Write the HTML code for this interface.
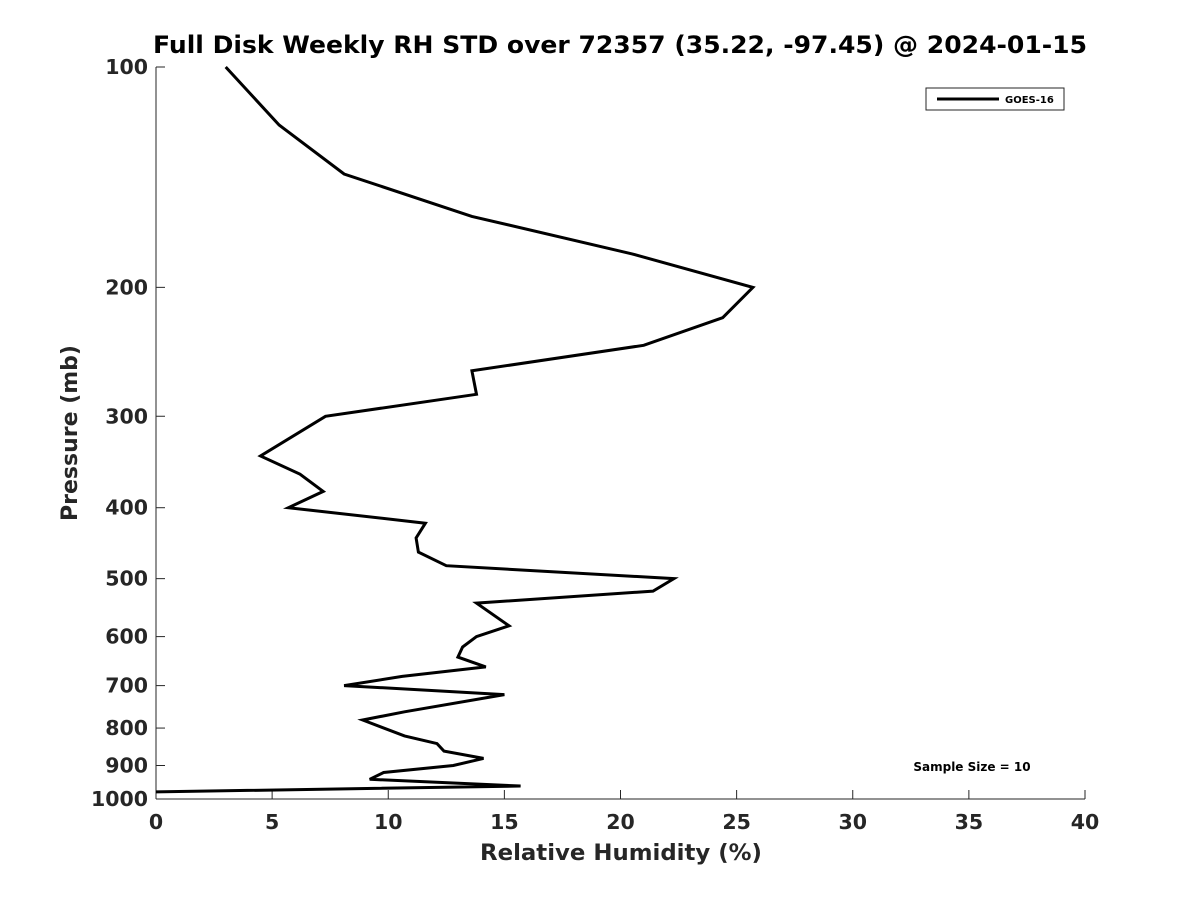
<!DOCTYPE html>
<html><head><meta charset="utf-8"><style>
body{margin:0;background:#fff}
svg text{font-family:"DejaVu Sans","Liberation Sans",sans-serif;font-weight:bold;fill:#262626}
</style></head><body>
<svg id="chart" width="1200" height="900" xmlns="http://www.w3.org/2000/svg">
<rect width="1200" height="900" fill="#fff"/>
<text x="620" y="53" font-size="24" text-anchor="middle" textLength="934" lengthAdjust="spacingAndGlyphs" style="fill:#000">Full Disk Weekly RH STD over 72357 (35.22, -97.45) @ 2024-01-15</text>
<g id="axes"></g>
<text x="621" y="860" font-size="22" text-anchor="middle" textLength="282" lengthAdjust="spacingAndGlyphs">Relative Humidity (%)</text>
<text transform="translate(77,433) rotate(-90)" font-size="22" text-anchor="middle">Pressure (mb)</text>
<g>
<rect x="926" y="88" width="138" height="22" fill="#fff" stroke="#262626" stroke-width="1"/>
<line x1="937" y1="99" x2="999" y2="99" stroke="#000" stroke-width="3"/>
<text x="1005" y="103" font-size="10" style="fill:#000">GOES-16</text>
</g>
<text x="972" y="771" font-size="12" text-anchor="middle" style="fill:#000">Sample Size = 10</text>
<path id="series" fill="none" stroke="#000" stroke-width="3" stroke-linejoin="miter"/>
</svg>
<script>
const pressures=[100,120,140,160,180,200,220,240,260,280,300,340,360,380,400,420,440,460,480,500,520,540,580,600,620,640,660,680,700,720,760,780,820,840,860,880,900,920,940,960,978];
const rhStd=[3.0,5.3,8.1,13.6,20.5,25.7,24.4,21.0,13.6,13.8,7.3,4.5,6.2,7.2,5.7,11.6,11.2,11.3,12.5,22.3,21.4,13.8,15.2,13.8,13.2,13.0,14.2,10.6,8.1,15.0,10.7,8.9,10.7,12.1,12.4,14.1,12.8,9.8,9.2,15.7,0];
const xTicks=[0,5,10,15,20,25,30,35,40];
const yTicks=[100,200,300,400,500,600,700,800,900,1000];
const X0=156,X1=1085,Y0=67,Y1=799;
const xs=v=>X0+(v-0)/40*(X1-X0);
const ys=p=>Y0+Math.log10(p/100)*(Y1-Y0);
const ns="http://www.w3.org/2000/svg";
const ax=document.getElementById('axes');
function mk(t,a){const e=document.createElementNS(ns,t);for(const k in a)e.setAttribute(k,a[k]);ax.appendChild(e);return e;}
let l=mk('line',{x1:X0,y1:Y0,x2:X0,y2:Y1,stroke:'#262626','stroke-width':1});


l=mk('line',{x1:X0,y1:Y1,x2:X1,y2:Y1,stroke:'#262626','stroke-width':1});


xTicks.forEach(v=>{
 const t=mk('line',{x1:xs(v),y1:Y1,x2:xs(v),y2:Y1-9,stroke:'#262626'});
 
 
 const tx=mk('text',{x:xs(v),y:Y1+30,'font-size':20.5,'text-anchor':'middle'});
 tx.textContent=v;
 
 
});
yTicks.forEach(p=>{
 const t=mk('line',{x1:X0,y1:ys(p),x2:X0+9,y2:ys(p),stroke:'#262626'});
 
 
 const tx=mk('text',{x:X0-8,y:ys(p)+7,'font-size':20.5,'text-anchor':'end'});
 tx.textContent=p;
 
 
});
document.getElementById('series').setAttribute('d',pressures.map((p,i)=>(i?'L':'M')+xs(rhStd[i]).toFixed(1)+','+ys(p).toFixed(1)).join(''));
</script>
</body></html>
